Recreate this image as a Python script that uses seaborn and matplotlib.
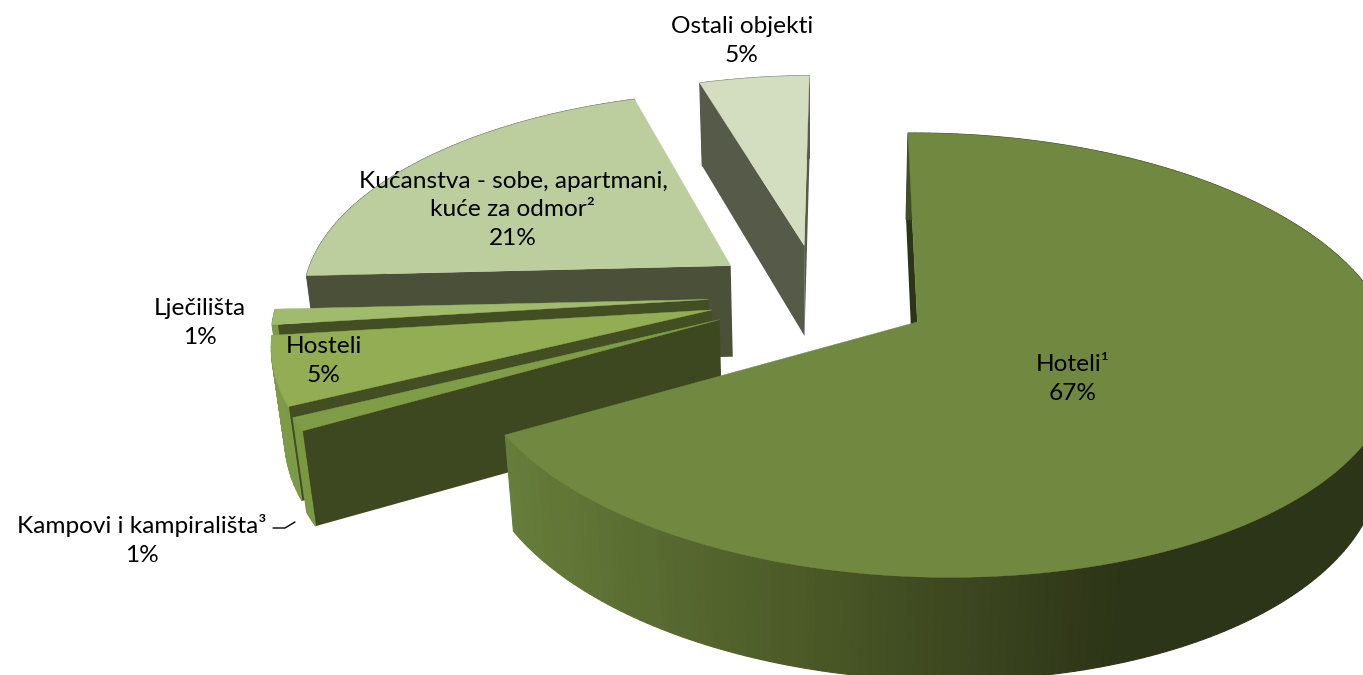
import numpy as np
import matplotlib
matplotlib.use('Agg')
import matplotlib.pyplot as plt
import seaborn as sns

# data, clockwise from the top
categories = ['Hoteli¹', 'Kampovi i kampirališta³', 'Hosteli', 'Lječilišta',
              'Kućanstva - sobe, apartmani,\nkuće za odmor²', 'Ostali objekti']
shares = [66.6, 1.0, 5.3, 1.2, 21.2, 4.7]

top_colors = ['#70883f', '#7f9c47', '#92ad54', '#9fbb6b', '#bccd9e', '#d3ddc0']
side_colors = ['#2d3518', '#3e4820', '#434e22', '#434e22', '#4b5038', '#555a49']
wall_colors = ['#4a5826', '#7b9843', '#7d9a47', '#7d9a47', '#4b5038', '#555a49']

sns.set_theme(style='white')
plt.rcParams['font.family'] = ['Lato', 'DejaVu Sans']

# view of the tilted pie
CX, CY = 819, 295
A, B = 445, 208
K = 0.146       # perspective in depth
L = 0.025       # right side sits a bit closer
M = 0.025       # walls converge downward
D = 95          # thickness
EXPLODE = 0.25
ROTATION = 0.5


def project(x, y, z=0.0):
    w = 1 + K * y - L * x + M * z
    return CX + A * x / w, CY - B * y / w + D * z / w


def rim(ang, ox, oy):
    a = np.radians(ang)
    return ox + np.sin(a), oy + np.cos(a)


fig = plt.figure(figsize=(13.63, 6.75), dpi=100)
ax = fig.add_axes([0, 0, 1, 1])
ax.set_xlim(0, 1363)
ax.set_ylim(675, 0)
ax.set_axis_off()

edges = ROTATION + np.cumsum([0] + shares) * 3.6
hotel_wall = sns.blend_palette(['#677d3a', '#4a5826', '#2d3518'], 64)


def quad(p0, p1, p2, p3, color, lw=0.0):
    ax.fill([p0[0], p1[0], p2[0], p3[0]], [p0[1], p1[1], p2[1], p3[1]],
            facecolor=color, edgecolor=color, lw=lw, zorder=3)


def draw_slice(i):
    start, end = edges[i], edges[i + 1]
    mid = np.radians((start + end) / 2)
    ox, oy = EXPLODE * np.sin(mid), EXPLODE * np.cos(mid)
    angs = np.linspace(start, end, max(int(end - start) + 1, 6))
    rx, ry = rim(angs, ox, oy)

    # the two cut faces, only the one turned to the viewer
    for ang, sign in ((start, -1), (end, 1)):
        px, py = rim(ang, ox, oy)
        a0, r0 = project(ox, oy), project(px, py)
        r1, a1 = project(px, py, 1), project(ox, oy, 1)
        cross = (r0[0] - a0[0]) * (r1[1] - r0[1]) - (r0[1] - a0[1]) * (r1[0] - r0[0])
        if cross * sign > 0:
            quad(a0, r0, r1, a1, side_colors[i])

    # outer wall in small strips so it can shade along the rim
    for j in range(len(angs) - 1):
        t0 = project(rx[j], ry[j])
        t1 = project(rx[j + 1], ry[j + 1])
        b1 = project(rx[j + 1], ry[j + 1], 1)
        b0 = project(rx[j], ry[j], 1)
        if i == 0:
            idx = int(np.interp(t0[0], [500, 1120], [0, 63]))
            color = hotel_wall[idx]
        else:
            color = wall_colors[i]
        quad(t0, t1, b1, b0, color, lw=0.8)

    # top surface
    sx, sy = project(np.r_[ox, rx], np.r_[oy, ry])
    ax.fill(sx, sy, facecolor=top_colors[i], edgecolor=top_colors[i], lw=0.3, zorder=3)


for i in [5, 4, 3, 2, 1, 0]:
    draw_slice(i)

label_xy = [(1073, 379), (142, 540), (324, 361), (200, 323), (513, 210), (742, 41)]
for i, (x, y) in enumerate(label_xy):
    ax.text(x, y, f'{categories[i]}\n{round(shares[i])}%', ha='center', va='center',
            fontsize=17.6, color='black', linespacing=1.45, zorder=5)

# leader line for the small slice
ax.plot([273, 285, 295], [528, 528, 522], color='black', lw=1, zorder=5)

fig.savefig('out.png', dpi=100)
